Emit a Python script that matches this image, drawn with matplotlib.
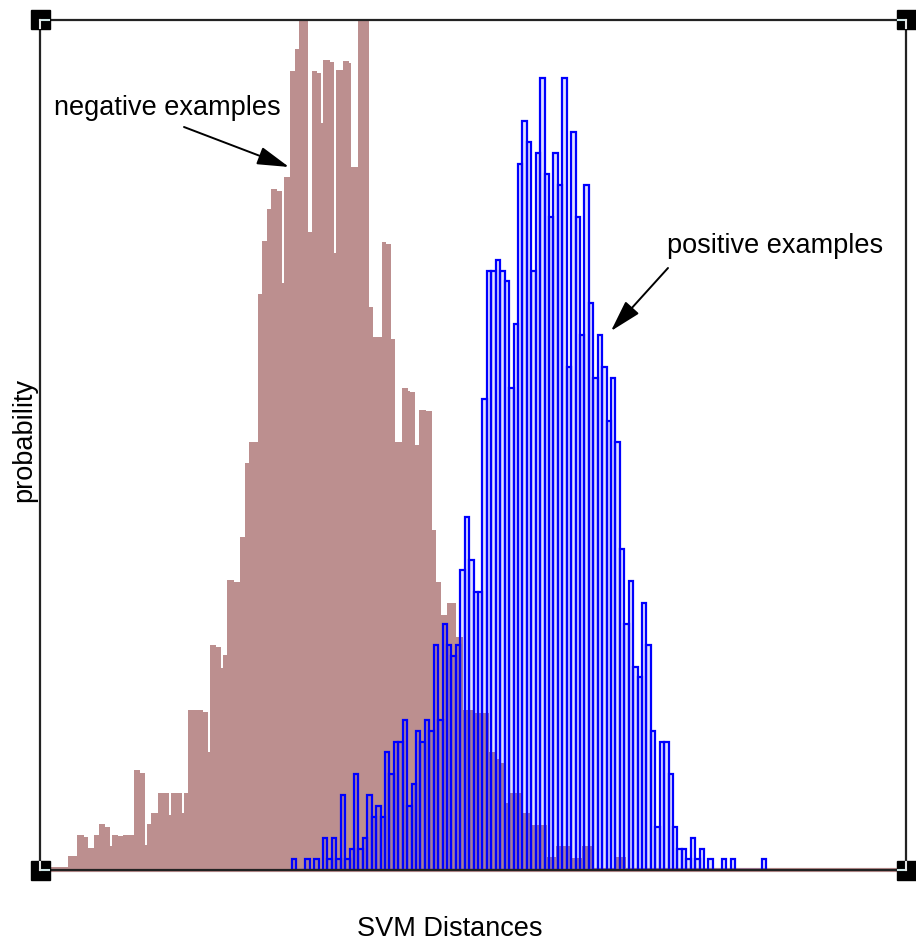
import numpy as np
import matplotlib
matplotlib.use("Agg")
import matplotlib.pyplot as plt
from matplotlib.patches import Rectangle, FancyArrowPatch
from matplotlib.lines import Line2D

# ---------------- data ----------------
# positive examples: histogram heights (counts), uniform bins
pos_start = -1.81
pos_bin = 0.0443
pos_counts = [1, 0, 0, 1, 0, 1, 0, 3, 1, 3,
              1, 7, 1, 2, 9, 2, 3, 7, 5, 6,
              5, 11, 9, 12, 12, 14, 6, 8, 13, 12,
              14, 13, 21, 14, 23, 21, 20, 21, 28, 33,
              29, 26, 26, 44, 56, 56, 57, 56, 55, 45,
              51, 66, 70, 68, 56, 67, 74, 65, 61, 67,
              64, 74, 47, 69, 61, 50, 64, 53, 46, 50,
              47, 42, 46, 40, 30, 23, 27, 19, 18, 25,
              21, 13, 4, 12, 12, 9, 4, 2, 2, 1,
              3, 1, 2, 0, 1, 0, 0, 1, 0, 1,
              0, 0, 0, 0, 0, 0, 1]

# negative examples: histogram heights (same scale), finer uniform bins
neg_start = -4.221
neg_bin = 0.02178
neg_counts = [0.3, 0.3, 0.3, 0.3, 0.3, 0.3, 0.3, 0.3, 1.3, 1.3,
              1.3, 1.3, 3.3, 3.3, 3.3, 3.1, 3.1, 2.1, 2.1, 2.1,
              3.3, 3.3, 4.3, 4.3, 4.3, 4.0, 4.0, 2.2, 3.3, 3.3,
              3.3, 3.2, 3.2, 3.3, 3.3, 3.3, 3.3, 3.3, 9.3, 9.3,
              9.3, 9.1, 9.1, 2.3, 4.3, 4.3, 5.3, 5.3, 5.3, 7.2,
              7.2, 7.2, 7.2, 7.2, 5.1, 7.2, 7.2, 7.2, 7.2, 7.2,
              5.3, 7.2, 7.2, 15.0, 15.0, 15.0, 15.0, 15.0, 15.0, 15.0,
              14.8, 14.8, 11.0, 21.0, 21.0, 21.0, 20.8, 20.8, 18.9, 20.1,
              20.1, 27.1, 27.1, 27.1, 26.9, 26.9, 26.9, 31.1, 31.1, 38.0,
              38.0, 40.0, 40.0, 40.0, 40.0, 53.8, 53.8, 58.8, 58.8, 61.8,
              61.8, 63.6, 63.6, 63.6, 63.5, 63.5, 54.9, 64.8, 64.8, 64.8,
              74.7, 74.7, 76.7, 76.7, 82.0, 82.0, 82.0, 82.0, 59.6, 59.6,
              74.7, 74.7, 74.5, 74.5, 69.8, 75.7, 75.7, 75.7, 75.5, 75.5,
              57.7, 74.8, 74.8, 74.8, 75.6, 75.6, 75.6, 75.4, 65.7, 65.7,
              65.7, 82.0, 82.0, 82.0, 82.0, 82.0, 52.6, 52.6, 49.8, 49.8,
              49.8, 49.8, 58.7, 58.7, 58.5, 58.5, 49.6, 49.6, 40.0, 40.0,
              40.0, 45.0, 45.0, 45.0, 44.8, 44.7, 44.7, 39.7, 39.7, 43.0,
              43.0, 43.0, 42.9, 42.9, 42.9, 31.8, 31.8, 26.9, 26.9, 23.8,
              23.8, 23.8, 25.0, 25.0, 25.0, 25.0, 21.8, 21.8, 21.8, 15.0,
              15.0, 15.0, 15.0, 15.0, 14.7, 14.7, 14.7, 14.7, 14.7, 14.7,
              14.7, 11.0, 11.0, 11.0, 11.0, 10.4, 10.0, 10.0, 10.0, 6.3,
              6.3, 7.2, 7.2, 7.2, 7.2, 7.2, 5.3, 5.3, 5.3, 5.3,
              5.3, 4.2, 4.2, 4.2, 4.2, 4.2, 4.2, 4.2, 1.2, 1.2,
              1.2, 1.2, 2.2, 2.2, 2.2, 2.2, 2.2, 2.2, 2.2, 1.1,
              1.1, 1.1, 1.1, 1.1, 2.2, 2.2, 2.2, 2.2, 2.2, 0.2,
              0.2, 0.2, 0.2, 0.2, 0.2, 0.2, 0.2, 0.2, 0.2, 1.2,
              1.2, 1.2, 1.2, 1.2, 0.2, 0.2, 0.2, 0.2, 0.2]

x_label = "SVM Distances"
y_label = "probability"
neg_text = "negative examples"
pos_text = "positive examples"

# ---------------- figure ----------------
W, H = 916, 946
fig = plt.figure(figsize=(W / 100, H / 100), dpi=100)
plt.rcParams['font.family'] = ['Liberation Sans', 'DejaVu Sans']

def fx(px):
    return px / W

def fy(py):
    return 1 - py / H

L, R, T, B = 40, 906, 20, 870
ax = fig.add_axes([fx(L), fy(B), fx(R) - fx(L), fy(T) - fy(B)])

neg = np.array(neg_counts)
neg_edges = neg_start + neg_bin * np.arange(len(neg) + 1)
pos = np.array(pos_counts, dtype=float)
pos_left = pos_start + pos_bin * np.arange(len(pos))

ax.stairs(neg, neg_edges, fill=True, color='rosybrown', lw=0, zorder=1)
ax.bar(pos_left, pos, width=pos_bin, align='edge',
       facecolor=(0.0, 0.0, 1.0, 0.12), edgecolor='#0000ff',
       linewidth=1.6, zorder=2)

ax.set_xlim(-4.33, 4.33)
ax.set_ylim(0, 850 / 10.7)
ax.set_xticks([])
ax.set_yticks([])
ax.axhline(0, color='rosybrown', lw=3, zorder=0.5, clip_on=False)
for s in ax.spines.values():
    s.set_linewidth(1.6)
    s.set_color('#222222')
    s.set_zorder(3)

# corner handles
sq = 19
for (cx, cy, dx, dy) in [(L, T, 1, 1), (R, T, -1, 1), (L, B, 1, -1), (R, B, -1, -1)]:
    fig.patches.append(Rectangle((fx(cx - sq / 2), fy(cy + sq / 2)),
                                 sq / W, sq / H, transform=fig.transFigure,
                                 facecolor='black', edgecolor='black', zorder=10))
    fig.lines.append(Line2D([fx(cx), fx(cx + dx * (sq / 2 - 1))], [fy(cy), fy(cy)],
                            transform=fig.transFigure, color='#cfe6e6', lw=1.5, zorder=11))
    fig.lines.append(Line2D([fx(cx), fx(cx)], [fy(cy), fy(cy + dy * (sq / 2 - 1))],
                            transform=fig.transFigure, color='#e6e6e6', lw=1.5, zorder=11))

fs = 19.5
fig.text(fx(167), fy(108), neg_text, fontsize=fs, ha='center', va='center')
fig.text(fx(775), fy(246), pos_text, fontsize=fs, ha='center', va='center')
fig.text(fx(450), fy(929), x_label, fontsize=fs, ha='center', va='center')
fig.text(fx(24), fy(440), y_label, fontsize=fs, ha='center', va='center', rotation=90)

astyle = dict(arrowstyle='-|>,head_length=1.4,head_width=0.4', mutation_scale=14,
              color='black', lw=1.4, shrinkA=0, shrinkB=0)
fig.add_artist(FancyArrowPatch((fx(184), fy(127)), (fx(289), fy(167)),
                               transform=fig.transFigure, **astyle))
fig.add_artist(FancyArrowPatch((fx(668), fy(268)), (fx(611), fy(331)),
                               transform=fig.transFigure, **astyle))

fig.savefig("out.png", dpi=100)
